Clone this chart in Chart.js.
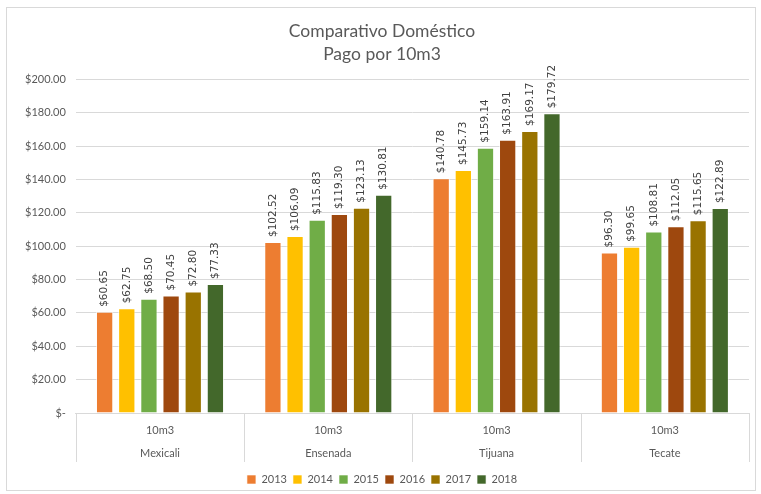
<!DOCTYPE html>
<html>
<head>
<meta charset="utf-8">
<script src="https://cdn.jsdelivr.net/npm/chart.js@4"></script>
<style>
  html, body { margin: 0; padding: 0; background: #fff; }
  #wrap { position: absolute; left: 6px; top: 7px; width: 748px; height: 482px; border: 1px solid #d9d9d9; }
</style>
</head>
<body>
<div id="wrap"><canvas id="c"></canvas></div>
<script>
/* ── data ─────────────────────────────────────────── */
const cities = ['Mexicali', 'Ensenada', 'Tijuana', 'Tecate'];
const unit   = '10m3';
const years  = ['2013', '2014', '2015', '2016', '2017', '2018'];

const v2013 = [60.65, 102.52, 140.78, 96.30];
const v2014 = [62.75, 106.09, 145.73, 99.65];
const v2015 = [68.50, 115.83, 159.14, 108.81];
const v2016 = [70.45, 119.30, 163.91, 112.05];
const v2017 = [72.80, 123.13, 169.17, 115.65];
const v2018 = [77.33, 130.81, 179.72, 122.89];

const colors = ['#ED7D31', '#FFC000', '#70AD47', '#9E480E', '#997300', '#43682B'];

const series = [v2013, v2014, v2015, v2016, v2017, v2018];

const money = v => '$' + v.toFixed(2);

/* ── rotated value labels ─────────────────────────── */
const valueLabels = {
  id: 'valueLabels',
  afterDatasetsDraw(chart) {
    const ctx = chart.ctx;
    ctx.save();
    ctx.font = '10.5px "DejaVu Sans", sans-serif';
    ctx.fillStyle = '#404040';
    ctx.textAlign = 'left';
    ctx.textBaseline = 'middle';
    chart.data.datasets.forEach((ds, i) => {
      chart.getDatasetMeta(i).data.forEach((bar, j) => {
        ctx.save();
        ctx.translate(bar.x, bar.y - 5);
        ctx.rotate(-Math.PI / 2);
        ctx.fillText(money(ds.data[j]), 0, 0);
        ctx.restore();
      });
    });
    ctx.restore();
  }
};

/* ── category separators below the axis ───────────── */
const separators = {
  id: 'separators',
  afterDraw(chart) {
    const x = chart.scales.x;
    const n = chart.data.labels.length;
    const step = (x.right - x.left) / n;
    const ctx = chart.ctx;
    ctx.save();
    ctx.strokeStyle = '#d9d9d9';
    ctx.lineWidth = 1;
    ctx.beginPath();
    for (let i = 0; i <= n; i++) {
      const px = Math.round(x.left + i * step) + 0.5;
      ctx.moveTo(px, x.top);
      ctx.lineTo(px, x.top + 49);
    }
    ctx.stroke();
    ctx.restore();
  }
};

new Chart(document.getElementById('c'), {
  type: 'bar',
  data: {
    labels: cities.map(c => [unit, c]),
    datasets: years.map((y, i) => ({
      label: y,
      data: series[i],
      backgroundColor: colors[i],
      borderColor: 'rgba(255,255,255,0.6)',
      borderWidth: 1,
      categoryPercentage: 0.79,
      barPercentage: 0.78,
    }))
  },
  options: {
    responsive: true,
    maintainAspectRatio: false,
    animation: false,
    layout: { padding: { left: 8, right: 6, top: 6, bottom: -5 } },
    plugins: {
      title: {
        display: true,
        text: ['Comparativo Doméstico', 'Pago por 10m3'],
        color: '#595959',
        font: { family: 'Lato, sans-serif', size: 17.5, weight: 'normal', lineHeight: 1.3 },
        padding: { top: 6, bottom: 14 }
      },
      legend: {
        position: 'bottom',
        labels: {
          color: '#595959',
          font: { family: 'Lato, sans-serif', size: 11 },
          boxWidth: 9, boxHeight: 9, padding: 6
        }
      },
      tooltip: { enabled: false }
    },
    scales: {
      x: {
        grid: { display: false },
        border: { color: '#d9d9d9' },
        ticks: { color: '#595959', font: { family: 'Lato, sans-serif', size: 11, lineHeight: 2.1 }, padding: -2 },
        afterFit: s => { s.height = 55; }
      },
      y: {
        min: 0, max: 200,
        ticks: {
          stepSize: 20,
          color: '#595959',
          font: { family: 'Lato, sans-serif', size: 11 },
          padding: 10,
          callback: v => v === 0 ? '$-' : money(v)
        },
        grid: { color: '#d9d9d9', drawTicks: false },
        border: { display: false }
      }
    }
  },
  plugins: [valueLabels, separators]
});
</script>
</body>
</html>
